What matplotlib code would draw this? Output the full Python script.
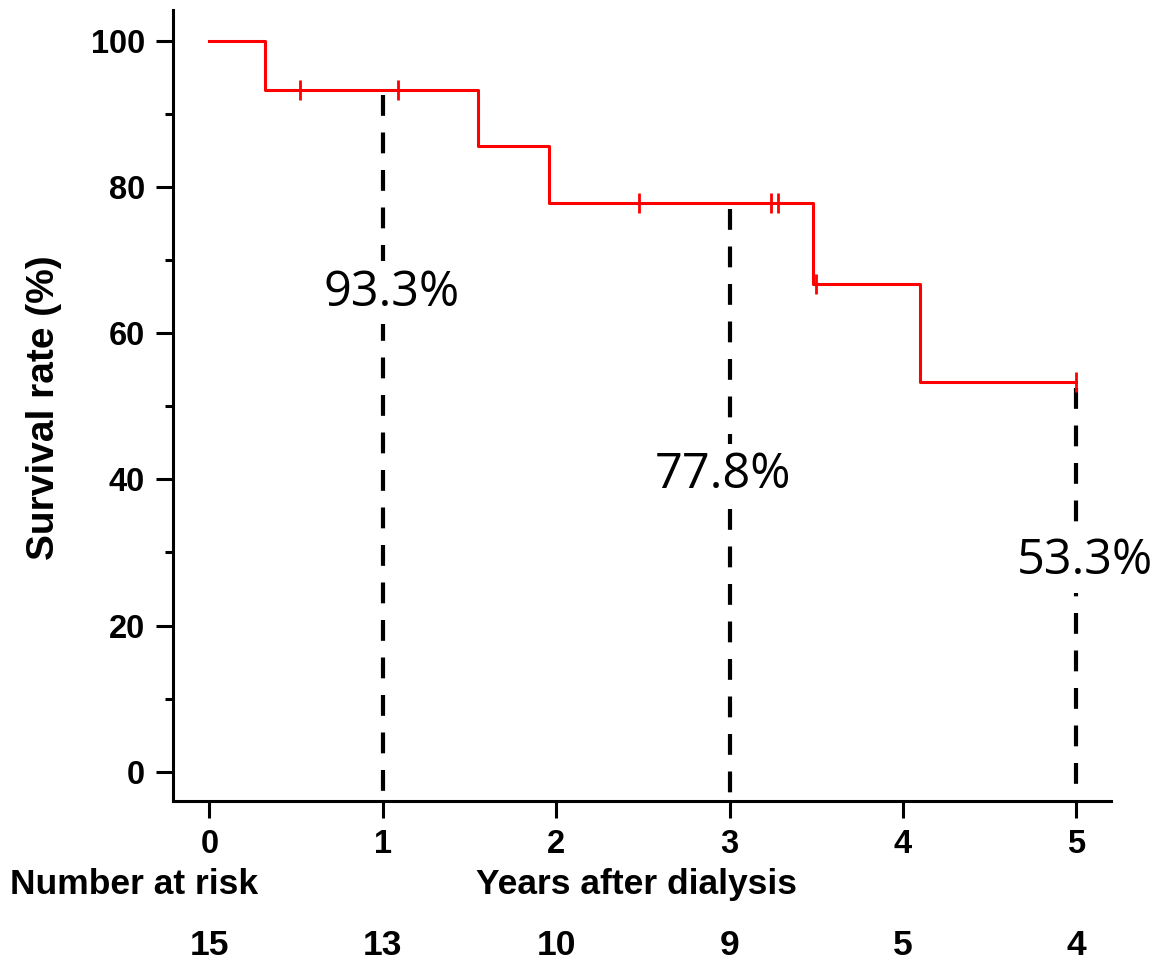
import numpy as np
import matplotlib.pyplot as plt
import matplotlib.transforms as mtrans

# Kaplan-Meier curve (years, %)
km_t = [0, 0.32, 1.55, 1.96, 3.48, 4.10, 5.0]
km_s = [100, 93.3, 85.6, 77.8, 66.7, 53.3, 53.3]

# censored observations
cens_t = [0.52, 1.09, 2.48, 3.24, 3.28, 3.50, 5.0]
cens_s = [93.3, 93.3, 77.8, 77.8, 77.8, 66.7, 53.3]

# landmark survival
mark_t = [1, 3, 5]
mark_s = [93.3, 77.8, 53.3]
mark_lbl = ['93.3%', '77.8%', '53.3%']
lbl_x = [1.05, 2.96, 5.05]
lbl_y = [65.5, 40.5, 28.8]

risk_t = [0, 1, 2, 3, 4, 5]
risk_n = [15, 13, 10, 9, 5, 4]

plt.rcParams['font.family'] = ['Liberation Sans', 'DejaVu Sans']
fs = 25.5

fig = plt.figure(figsize=(11.57, 9.67), dpi=100)
ax = fig.add_axes([0.1495, 0.1717, 0.8107, 0.8180])

ax.step(km_t, km_s, where='post', color='red', lw=2.2, zorder=3)
ax.plot(cens_t, cens_s, ls='none', marker='|', ms=14, mew=2, color='red', zorder=3)

for x, s in zip(mark_t, mark_s):
    ax.plot([x, x], [s - 0.8, -4], color='black', lw=3, ls=(0, (5, 4)), zorder=2)

for x, y, t in zip(lbl_x, lbl_y, mark_lbl):
    ax.text(x, y, t, ha='center', va='center', fontsize=35, family='Open Sans',
            bbox=dict(facecolor='white', edgecolor='none', pad=5), zorder=4)

ax.set_xlim(-0.21, 5.2)
ax.set_ylim(-4, 104.2)
ax.set_xticks(risk_t)
ax.set_yticks([0, 20, 40, 60, 80, 100])
ax.set_yticks([10, 30, 50, 70, 90], minor=True)
for s in ['top', 'right']:
    ax.spines[s].set_visible(False)
for s in ['left', 'bottom']:
    ax.spines[s].set_linewidth(2.2)
ax.tick_params(axis='both', which='major', length=12, width=2.2, labelsize=23.5, pad=8)
ax.tick_params(axis='y', which='minor', length=6, width=2.2)
for lab in ax.get_xticklabels() + ax.get_yticklabels():
    lab.set_fontweight('bold')

fig.text(0.038, 0.578, 'Survival rate (%)', rotation=90, ha='center', va='center',
         fontsize=28, fontweight='bold')
fig.text(0.550, 0.0848, 'Years after dialysis', ha='center', va='center',
         fontsize=fs, fontweight='bold')
fig.text(0.0086, 0.0848, 'Number at risk', ha='left', va='center',
         fontsize=fs, fontweight='bold')

trans = mtrans.blended_transform_factory(ax.transData, fig.transFigure)
for x, n in zip(risk_t, risk_n):
    ax.text(x, 0.0227, str(n), transform=trans, ha='center', va='center',
            fontsize=fs, fontweight='bold')

fig.savefig('out.png', dpi=100)
